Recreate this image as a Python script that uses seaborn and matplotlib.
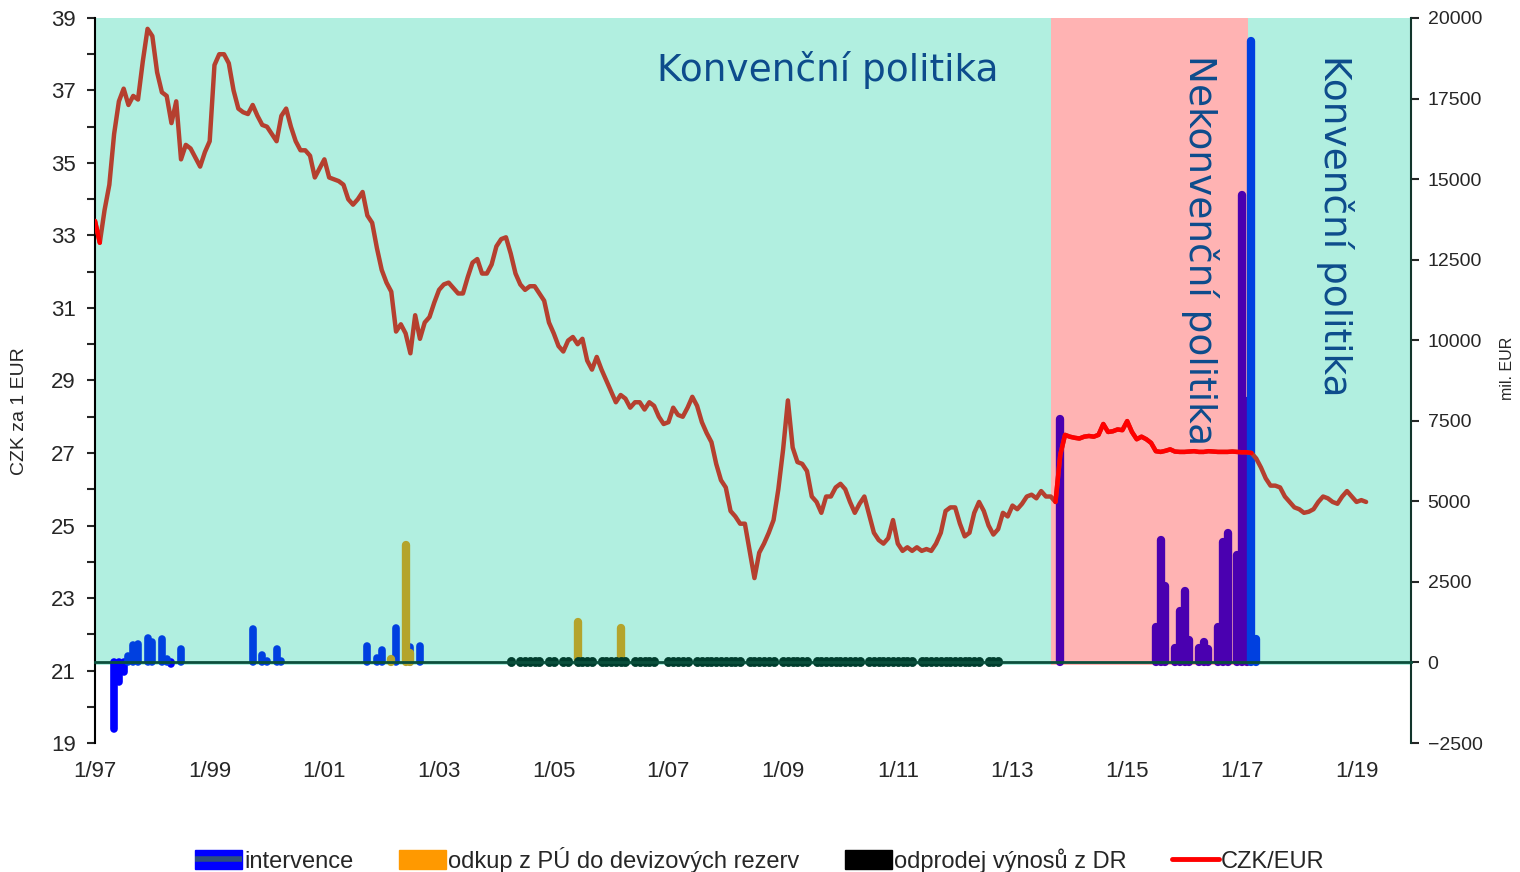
import numpy as np
import pandas as pd
import matplotlib
matplotlib.use("Agg")
import matplotlib.pyplot as plt
from matplotlib.lines import Line2D
from matplotlib.patches import Patch
from matplotlib.ticker import FixedLocator, MultipleLocator
import seaborn as sns

# monthly CZK/EUR (CZK/ECU before 1999), Jan 1997 - Mar 2019
rate_1997 = [33.4, 32.8, 33.7, 34.4, 35.8, 36.7, 37.05, 36.6, 36.85, 36.75, 37.8, 38.7]
rate_1998 = [38.5, 37.5, 36.95, 36.85, 36.1, 36.7, 35.1, 35.5, 35.4, 35.15, 34.9, 35.3]
rate_1999 = [35.6, 37.7, 38.0, 38.0, 37.75, 37.0, 36.5, 36.4, 36.35, 36.6, 36.3, 36.05]
rate_2000 = [36.0, 35.8, 35.6, 36.3, 36.5, 36.0, 35.6, 35.35, 35.35, 35.2, 34.6, 34.85]
rate_2001 = [35.1, 34.6, 34.55, 34.5, 34.4, 34.0, 33.85, 34.0, 34.2, 33.55, 33.35, 32.65]
rate_2002 = [32.05, 31.7, 31.45, 30.35, 30.55, 30.3, 29.75, 30.8, 30.15, 30.6, 30.75, 31.15]
rate_2003 = [31.5, 31.65, 31.7, 31.55, 31.4, 31.4, 31.85, 32.25, 32.35, 31.95, 31.95, 32.2]
rate_2004 = [32.7, 32.9, 32.95, 32.5, 31.95, 31.65, 31.5, 31.6, 31.6, 31.4, 31.2, 30.6]
rate_2005 = [30.3, 29.95, 29.8, 30.1, 30.2, 30.0, 30.15, 29.55, 29.3, 29.65, 29.3, 29.0]
rate_2006 = [28.7, 28.4, 28.6, 28.5, 28.25, 28.4, 28.4, 28.2, 28.4, 28.3, 28.0, 27.8]
rate_2007 = [27.85, 28.25, 28.05, 28.0, 28.25, 28.55, 28.3, 27.85, 27.55, 27.3, 26.7, 26.25]
rate_2008 = [26.05, 25.4, 25.25, 25.05, 25.05, 24.3, 23.55, 24.25, 24.5, 24.8, 25.15, 26.0]
rate_2009 = [27.1, 28.45, 27.15, 26.75, 26.7, 26.5, 25.8, 25.65, 25.35, 25.8, 25.8, 26.05]
rate_2010 = [26.15, 26.0, 25.65, 25.35, 25.6, 25.8, 25.3, 24.8, 24.6, 24.5, 24.65, 25.15]
rate_2011 = [24.5, 24.3, 24.4, 24.3, 24.4, 24.3, 24.35, 24.3, 24.5, 24.8, 25.4, 25.5]
rate_2012 = [25.5, 25.05, 24.7, 24.8, 25.35, 25.65, 25.4, 25.0, 24.75, 24.9, 25.35, 25.25]
rate_2013 = [25.55, 25.45, 25.6, 25.8, 25.85, 25.75, 25.95, 25.8, 25.8, 25.65, 26.95, 27.5]
rate_2014 = [27.45, 27.42, 27.4, 27.45, 27.47, 27.45, 27.5, 27.8, 27.58, 27.6, 27.65, 27.63]
rate_2015 = [27.88, 27.58, 27.38, 27.45, 27.38, 27.28, 27.05, 27.03, 27.06, 27.1, 27.04, 27.03]
rate_2016 = [27.03, 27.04, 27.05, 27.03, 27.03, 27.05, 27.04, 27.03, 27.03, 27.03, 27.04, 27.03]
rate_2017 = [27.02, 27.02, 27.0, 26.85, 26.6, 26.3, 26.1, 26.1, 26.05, 25.8, 25.65, 25.5]
rate_2018 = [25.45, 25.35, 25.38, 25.45, 25.65, 25.8, 25.75, 25.65, 25.6, 25.8, 25.95, 25.8]
rate_2019 = [25.65, 25.7, 25.65]

czk_eur = (rate_1997 + rate_1998 + rate_1999 + rate_2000 + rate_2001 + rate_2002
           + rate_2003 + rate_2004 + rate_2005 + rate_2006 + rate_2007 + rate_2008
           + rate_2009 + rate_2010 + rate_2011 + rate_2012 + rate_2013 + rate_2014
           + rate_2015 + rate_2016 + rate_2017 + rate_2018 + rate_2019)

# bars in mil. EUR, month index counted from Jan 1997
interv_months = [4, 5, 6, 7, 8, 9, 11, 12, 14, 15, 16, 18,
                 33, 35, 36, 38, 39,
                 57, 59, 60, 63, 66, 68]
interv_values = [-2050, -600, -300, 200, 540, 560, 750, 640, 720, 100, -60, 410,
                 1030, 230, 60, 410, 60,
                 510, 140, 380, 1060, 480, 510]

# interventions during the exchange rate commitment (Nov 2013 - Apr 2017)
commit_months = [202, 222, 223, 224, 226, 227, 228, 229, 231, 232, 233,
                 235, 236, 237, 239, 240, 241]
commit_values = [7550, 1100, 3800, 2370, 440, 1600, 2220, 690, 440, 630, 410,
                 1100, 3740, 4020, 3330, 14500, 8100]
exit_months = [242, 243]
exit_values = [19300, 720]

# purchases from PU into FX reserves
pu_months = [62, 65, 66, 101, 110]
pu_values = [100, 3640, 300, 1250, 1070]

# sales of DR proceeds, Apr 2004 - Oct 2012
dr_start = 87
dr_values = [45, 30, 50, 40, 35, 55, 40, 30, 45,
             50, 20, 35, 45, 30, 50, 40, 35, 45, 30, 50, 40,
             45, 35, 50, 40, 30, 45, 55, 35, 40, 50, 30, 20,
             40, 45, 35, 50, 40, 30, 45, 40, 35, 50, 45, 40,
             35, 45, 40, 50, 30, 45, 40, 35, 50, 40, 45, 30,
             45, 40, 35, 50, 40, 45, 30, 40, 50, 35, 45, 40,
             40, 35, 45, 50, 40, 30, 45, 40, 35, 50, 40, 45,
             35, 45, 40, 50, 30, 40, 45, 35, 50, 40, 45, 40,
             45, 40, 35, 50, 40, 45, 30, 40, 50, 40]

x_labels = ["1/97", "1/99", "1/01", "1/03", "1/05", "1/07", "1/09",
            "1/11", "1/13", "1/15", "1/17", "1/19"]


def to_year(m):
    return 1997 + np.asarray(m) / 12.0


df = pd.DataFrame({"t": to_year(np.arange(len(czk_eur))), "rate": czk_eur})
df_red = df.iloc[201:243]
df_red0 = df.iloc[0:2]

sns.set_style("white")
plt.rcParams["font.family"] = ["Liberation Sans", "DejaVu Sans"]

teal = "#b1efe0"
pink = "#ffb3b3"
brown = "#b5402f"
navy = "#0d4c8c"
axis_green = "#0b4f3c"

fig = plt.figure(figsize=(15.2, 8.72), dpi=100)
ax = fig.add_axes([0.0625, 0.1479, 0.8658, 0.8315])
ax2 = ax.twinx()
ax.set_zorder(ax2.get_zorder() + 1)
ax.patch.set_visible(False)

x_min, x_max = 1997.0, 2019.95
ax.set_xlim(x_min, x_max)
ax.set_ylim(19, 39)
ax2.set_ylim(-2500, 20000)
zero_frac = 2500 / 22500

# background regimes
ax2.axvspan(x_min, x_max, ymin=zero_frac - 0.004, ymax=1, color=teal, lw=0, zorder=0)
ax2.axvspan(2013.667, 2017.1, ymin=zero_frac - 0.004, ymax=1, color=pink, lw=0, zorder=1)

# bars as thick round-capped lines
iv = np.array(interv_values)
im = to_year(interv_months)
ax2.vlines(im[iv < 0], 0, iv[iv < 0], colors="#0000ff", lw=5.5, capstyle="round", zorder=3)
ax2.vlines(im[iv > 0], 0, iv[iv > 0], colors="#0040e0", lw=5.5, capstyle="round", zorder=3)
ax2.vlines(to_year(pu_months), 0, pu_values, colors="#b4a42c", lw=6, capstyle="round", zorder=3)
dr_m = np.arange(dr_start, dr_start + len(dr_values))
ax2.vlines(to_year(dr_m), 0, dr_values, colors="#003d2d", lw=6.5,
           capstyle="round", zorder=3)
ax2.vlines(to_year(commit_months), 0, commit_values, colors="#4a00b0", lw=6,
           capstyle="round", zorder=3)
ax2.vlines(to_year(exit_months), 0, exit_values, colors="#0040e0", lw=6,
           capstyle="round", zorder=4)

# exchange rate line
sns.lineplot(data=df, x="t", y="rate", ax=ax, color=brown, lw=3.2, zorder=5)
sns.lineplot(data=df_red, x="t", y="rate", ax=ax, color="#ff0000", lw=3.2, zorder=6)
sns.lineplot(data=df_red0, x="t", y="rate", ax=ax, color="#ff0000", lw=3.2, zorder=6)

# axes styling
for s in ["top", "right"]:
    ax.spines[s].set_visible(False)
for s in ["top", "left", "bottom"]:
    ax2.spines[s].set_visible(False)
ax.spines["left"].set_color("black")
ax.spines["left"].set_linewidth(1.5)
ax.spines["bottom"].set_position(("axes", zero_frac))
ax.spines["bottom"].set_color(axis_green)
ax.spines["bottom"].set_linewidth(2)
ax2.spines["right"].set_color("#12352b")
ax2.spines["right"].set_linewidth(1.5)

ax.xaxis.set_major_locator(FixedLocator(np.arange(1997, 2020, 2)))
ax.xaxis.set_minor_locator(FixedLocator(np.arange(1998, 2019, 2)))
ax.set_xticklabels(x_labels)
ax.yaxis.set_major_locator(FixedLocator(np.arange(19, 40, 2)))
ax.yaxis.set_minor_locator(FixedLocator(np.arange(20, 39, 2)))
ax2.yaxis.set_major_locator(MultipleLocator(2500))

ax.tick_params(axis="x", which="both", direction="out", length=6, width=1.5,
               pad=65, labelsize=16, color="black")
ax.tick_params(axis="y", which="both", direction="out", length=6, width=1.5,
               labelsize=16, left=True, pad=8)
ax2.tick_params(axis="y", direction="out", length=6, width=1.5, labelsize=14,
                right=True, pad=6)

ax.set_xlabel("")
ax.set_ylabel("CZK za 1 EUR", fontsize=14)
ax.yaxis.set_label_coords(-0.051, 0.458)
ax2.set_ylabel("mil. EUR", fontsize=11.5)
ax2.yaxis.set_label_coords(1.0676, 0.517)

# regime annotations
ax.text(2006.8, 37.57, "Konvenční politika", fontsize=27, family="DejaVu Sans",
        color=navy, ha="left", va="center", zorder=7)
ax.text(2016.27, 37.98, "Nekonvenční politika", fontsize=27, family="DejaVu Sans",
        color=navy, ha="center", va="top", rotation=-90, zorder=7)
ax.text(2018.62, 37.98, "Konvenční politika", fontsize=27, family="DejaVu Sans",
        color=navy, ha="center", va="top", rotation=-90, zorder=7)

handles = [
    (Patch(facecolor="#0000ff", edgecolor="#0000ff"),
     Line2D([], [], color="#2d4f7c", lw=4, solid_capstyle="butt")),
    Patch(facecolor="#ff9900", edgecolor="#ff9900"),
    Patch(facecolor="#000000", edgecolor="#000000"),
    Line2D([], [], color="#ff0000", lw=3.5),
]
labels = ["intervence", "odkup z PÚ do devizových rezerv", "odprodej výnosů z DR", "CZK/EUR"]
fig.legend(handles, labels, loc="center", bbox_to_anchor=(0.5, 0.014), ncol=4,
           frameon=False, fontsize=17, handlelength=2.0, handleheight=0.9,
           handletextpad=0.1, columnspacing=1.9)

fig.savefig("out.png", dpi=100)
